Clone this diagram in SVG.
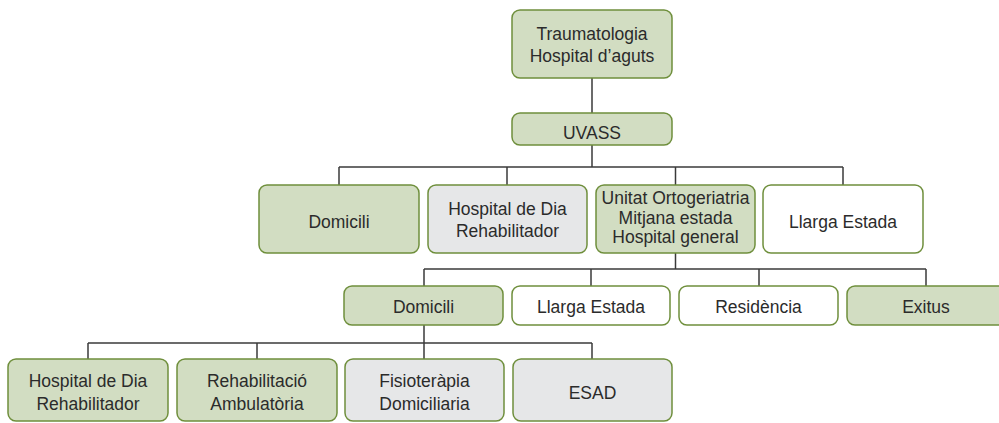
<svg xmlns="http://www.w3.org/2000/svg" width="999" height="423" viewBox="0 0 999 423">
<style>
.b{stroke:#6f8f3c;stroke-width:1.5}
.g{fill:#d2ddc2}
.y{fill:#e6e7e8}
.w{fill:#ffffff}
text{font-family:"Liberation Sans",Arial,sans-serif;font-size:17.5px;fill:#2b2b2b;text-anchor:middle}
.c line{stroke:#3a3a3a;stroke-width:1.5}
</style>
<rect width="999" height="423" fill="#ffffff"/>
<g class="c" id="connectors">
<line x1="592" y1="78" x2="592" y2="113"/>
<line x1="592" y1="145" x2="592" y2="167"/>
<line x1="339" y1="167" x2="843" y2="167"/>
<line x1="339" y1="167" x2="339" y2="185"/>
<line x1="507" y1="167" x2="507" y2="185"/>
<line x1="675.5" y1="167" x2="675.5" y2="185"/>
<line x1="843" y1="167" x2="843" y2="185"/>
<line x1="675.5" y1="253" x2="675.5" y2="269"/>
<line x1="424" y1="269" x2="926" y2="269"/>
<line x1="424" y1="269" x2="424" y2="286"/>
<line x1="591" y1="269" x2="591" y2="286"/>
<line x1="759" y1="269" x2="759" y2="286"/>
<line x1="926" y1="269" x2="926" y2="286"/>
<line x1="424" y1="325" x2="424" y2="343"/>
<line x1="88" y1="343" x2="592" y2="343"/>
<line x1="88" y1="343" x2="88" y2="359"/>
<line x1="257" y1="343" x2="257" y2="359"/>
<line x1="424" y1="343" x2="424" y2="359"/>
<line x1="592" y1="343" x2="592" y2="359"/>
</g>
<g id="trauma"><rect class="b g" x="512" y="10" width="160" height="68" rx="8"/><text x="592" y="39.5">Traumatologia</text><text x="592" y="61.5">Hospital d’aguts</text></g>
<g id="uvass"><rect class="b g" x="512" y="113" width="160" height="32" rx="8"/><text x="592" y="139">UVASS</text></g>
<g id="domicili1"><rect class="b g" x="259" y="185" width="160" height="68" rx="8"/><text x="339" y="228">Domicili</text></g>
<g id="hdia1"><rect class="b y" x="428" y="185" width="159" height="68" rx="8"/><text x="507.5" y="215">Hospital de Dia</text><text x="507.5" y="236.5">Rehabilitador</text></g>
<g id="unitat"><rect class="b g" x="596" y="185" width="159" height="68" rx="8"/><text x="675.5" y="204">Unitat Ortogeriatria</text><text x="675.5" y="223.5">Mitjana estada</text><text x="675.5" y="243">Hospital general</text></g>
<g id="llarga1"><rect class="b w" x="763" y="185" width="160" height="68" rx="8"/><text x="843" y="228">Llarga Estada</text></g>
<g id="domicili2"><rect class="b g" x="344" y="286" width="159" height="39" rx="8"/><text x="423.5" y="312.5">Domicili</text></g>
<g id="llarga2"><rect class="b w" x="512" y="286" width="158" height="39" rx="8"/><text x="591" y="312.5">Llarga Estada</text></g>
<g id="residencia"><rect class="b w" x="679" y="286" width="159" height="39" rx="8"/><text x="758.5" y="312.5">Residència</text></g>
<g id="exitus"><rect class="b g" x="847" y="286" width="159" height="39" rx="8"/><text x="926" y="312.5">Exitus</text></g>
<g id="hdia2"><rect class="b g" x="8" y="359" width="160" height="62" rx="8"/><text x="88" y="387">Hospital de Dia</text><text x="88" y="409.5">Rehabilitador</text></g>
<g id="rehab"><rect class="b g" x="177" y="359" width="160" height="62" rx="8"/><text x="257" y="387">Rehabilitació</text><text x="257" y="409.5">Ambulatòria</text></g>
<g id="fisio"><rect class="b y" x="345" y="359" width="159" height="62" rx="8"/><text x="424.5" y="387">Fisioteràpia</text><text x="424.5" y="409.5">Domiciliaria</text></g>
<g id="esad"><rect class="b y" x="513" y="359" width="159" height="62" rx="8"/><text x="592.5" y="398.5">ESAD</text></g>
</svg>
